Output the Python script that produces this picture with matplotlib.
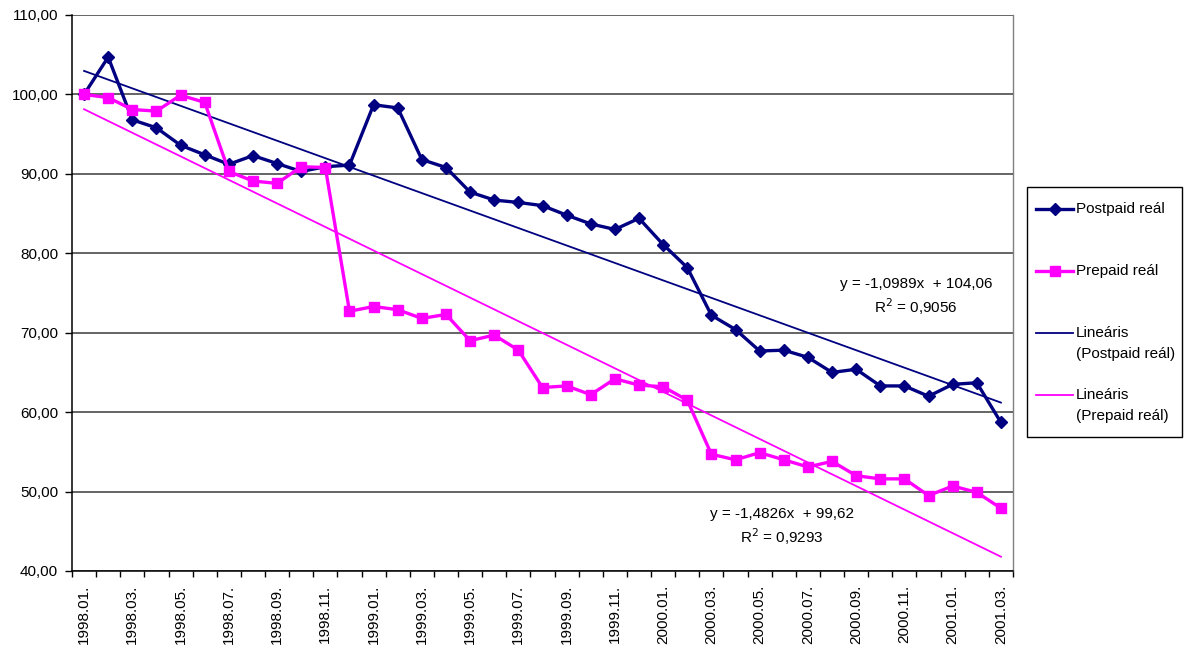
import matplotlib
matplotlib.use("Agg")
import matplotlib.pyplot as plt
from matplotlib.lines import Line2D
from matplotlib.patches import Rectangle
import numpy as np

plt.rcParams['font.family'] = ['Liberation Sans', 'DejaVu Sans']

# Monthly categories 1998.01. .. 2001.03.
months = [f"{y}.{m:02d}." for y in (1998, 1999, 2000, 2001) for m in range(1, 13)][:39]

postpaid = [100.0, 104.7, 96.8, 95.8, 93.6, 92.4, 91.2, 92.3, 91.3, 90.3,
            90.9, 91.1, 98.7, 98.3, 91.8, 90.8, 87.7, 86.7, 86.4, 86.0,
            84.8, 83.7, 83.0, 84.4, 81.1, 78.2, 72.2, 70.4, 67.7, 67.8,
            66.9, 65.0, 65.4, 63.3, 63.3, 62.0, 63.5, 63.7, 58.7]

prepaid = [100.0, 99.6, 98.1, 97.9, 99.9, 99.0, 90.3, 89.1, 88.8, 90.9,
           90.8, 72.7, 73.3, 72.9, 71.8, 72.3, 69.0, 69.7, 67.8, 63.1,
           63.3, 62.2, 64.2, 63.4, 63.2, 61.5, 54.7, 54.0, 54.9, 54.0,
           53.1, 53.8, 52.0, 51.6, 51.6, 49.5, 50.7, 49.9, 47.9]

# Linear trend coefficients (slope, intercept, R^2) in terms of month index 1..n
post_fit = (-1.0989, 104.06, 0.9056)
pre_fit = (-1.4826, 99.62, 0.9293)

y_ticks = [40, 50, 60, 70, 80, 90, 100, 110]
y_tick_labels = ["40,00", "50,00", "60,00", "70,00", "80,00", "90,00", "100,00", "110,00"]

NAVY = "#000080"
MAGENTA = "#FF00FF"
GRID = "#3a3a3a"

W, H = 1184, 648
fig = plt.figure(figsize=(W / 100, H / 100), dpi=100)
fig.patch.set_facecolor("white")

left, right, top, bottom = 72, 1013, 15, 571
ax = fig.add_axes([left / W, 1 - bottom / H, (right - left) / W, (bottom - top) / H])

x = np.arange(len(months))
n = x + 1

ax.plot(x, postpaid, color=NAVY, lw=2.4, marker="D", ms=6.0, mfc=NAVY, mec=NAVY,
        zorder=4, label="Postpaid reál")
ax.plot(x, prepaid, color=MAGENTA, lw=2.4, marker="s", ms=6.5, mfc=MAGENTA, mec=MAGENTA,
        zorder=5, label="Prepaid reál")
ax.plot(x, post_fit[0] * n + post_fit[1], color=NAVY, lw=1.3, zorder=3)
ax.plot(x, pre_fit[0] * n + pre_fit[1], color=MAGENTA, lw=1.3, zorder=3)

ax.set_xlim(-0.5, len(months) - 0.5)
ax.set_ylim(40, 110)

ax.set_yticks(y_ticks)
ax.set_yticklabels(y_tick_labels, fontsize=11)
ax.yaxis.grid(True, color=GRID, lw=1.1)
ax.set_axisbelow(True)
ax.tick_params(axis="y", direction="out", length=5, width=1, color="black", pad=5)

ax.set_xticks(x[::2])
ax.set_xticklabels(months[::2], rotation=90, fontsize=11)
ax.set_xticks(np.arange(-0.5, len(months)), minor=True)
ax.tick_params(axis="x", which="major", length=0, pad=10)
ax.tick_params(axis="x", which="minor", direction="out", length=4, width=1, color="black")

for side in ("left", "bottom"):
    ax.spines[side].set_color("black")
    ax.spines[side].set_linewidth(1.1)
ax.spines["top"].set_visible(False)
ax.spines["right"].set_color("#808080")
ax.spines["right"].set_linewidth(1.0)

def fig_xy(px, py):
    return px / W, 1 - py / H

# Trend equations
def trend_text(cx, cy, fit):
    slope, icpt, r2 = fit
    eq = f"y = {slope:.4f}x  + {icpt:.2f}".replace(".", ",")
    fig.text(*fig_xy(cx, cy), eq, ha="center", va="center", fontsize=11)
    fig.text(*fig_xy(cx, cy + 22.5), f"R$^2$ = {r2:.4f}".replace(".", ","),
             ha="center", va="center", fontsize=11)

trend_text(916, 284, post_fit)
trend_text(782, 514, pre_fit)

# Legend box
bx0, by0, bx1, by1 = 1027, 187, 1182, 437
fig.add_artist(Rectangle(fig_xy(bx0, by1), (bx1 - bx0) / W, (by1 - by0) / H,
                         transform=fig.transFigure, facecolor="white",
                         edgecolor="black", lw=1.0))

legend_items = [
    (209, NAVY, 2.4, "D", 6.0, ["Postpaid reál"]),
    (271, MAGENTA, 2.4, "s", 6.5, ["Prepaid reál"]),
    (333, NAVY, 1.3, None, 0, ["Lineáris", "(Postpaid reál)"]),
    (395, MAGENTA, 1.3, None, 0, ["Lineáris", "(Prepaid reál)"]),
]
for ly, col, lw, mk, ms, lines in legend_items:
    xa, ya = fig_xy(1036, ly)
    xb, _ = fig_xy(1073, ly)
    fig.add_artist(Line2D([xa, xb], [ya, ya], transform=fig.transFigure,
                          color=col, lw=lw))
    if mk:
        fig.add_artist(Line2D([(xa + xb) / 2], [ya], transform=fig.transFigure,
                              color=col, marker=mk, ms=ms, mfc=col, mec=col, lw=0))
    for k, t in enumerate(lines):
        fig.text(*fig_xy(1076, ly + 21 * k), t, ha="left", va="center", fontsize=11)

fig.savefig("out.png", dpi=100, facecolor="white")
